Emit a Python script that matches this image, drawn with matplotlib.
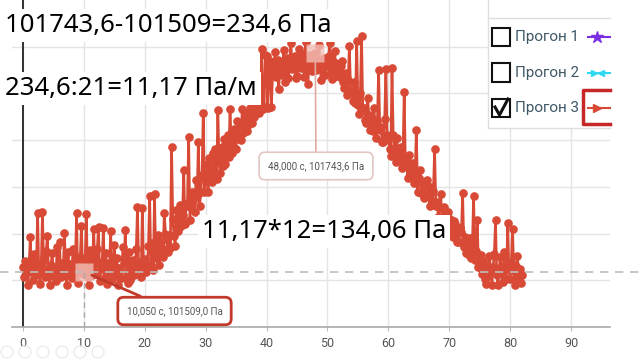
import numpy as np
import matplotlib.pyplot as plt
from matplotlib.patches import Rectangle, Ellipse
from matplotlib.lines import Line2D

# pressure sensor log, one reading every 0.2 s from 0 to 82 s (Pa)
step = 0.2
pressure = [
    101514, 101503, 101521, 101508, 101495, 101517, 101546, 101511, 101500, 101528,
    101506, 101515, 101572, 101509, 101496, 101519, 101573, 101512, 101504, 101531,
    101547, 101508, 101495, 101516, 101529, 101505, 101513, 101499, 101536, 101510,
    101541, 101503, 101518, 101508, 101551, 101514, 101495, 101530, 101506, 101517,
    101502, 101534, 101508, 101520, 101572, 101497, 101514, 101525, 101558, 101507,
    101509, 101518, 101571, 101503, 101495, 101532, 101512, 101506, 101555, 101519,
    101507, 101534, 101557, 101499, 101512, 101520, 101556, 101504, 101529, 101496,
    101518, 101510, 101553, 101501, 101506, 101538, 101514, 101524, 101495, 101511,
    101513, 101502, 101536, 101519, 101554, 101509, 101497, 101530, 101500, 101521,
    101522, 101506, 101515, 101533, 101578, 101511, 101520, 101503, 101577, 101514,
    101523, 101509, 101512, 101537, 101590, 101516, 101540, 101511, 101592, 101524,
    101526, 101548, 101516, 101541, 101535, 101525, 101572, 101550, 101544, 101530,
    101549, 101535, 101643, 101566, 101547, 101537, 101575, 101553, 101566, 101581,
    101558, 101570, 101618, 101560, 101582, 101580, 101653, 101565, 101579, 101594,
    101585, 101573, 101607, 101590, 101648, 101580, 101594, 101613, 101679, 101595,
    101606, 101624, 101595, 101631, 101609, 101605, 101636, 101617, 101640, 101608,
    101682, 101627, 101615, 101643, 101622, 101651, 101625, 101634, 101656, 101632,
    101683, 101645, 101636, 101662, 101657, 101640, 101670, 101651, 101664, 101650,
    101683, 101658, 101667, 101679, 101660, 101666, 101684, 101684, 101668, 101677,
    101675, 101684, 101680, 101684, 101679, 101686, 101748, 101683, 101686, 101741,
    101740, 101684, 101728, 101735, 101686, 101722, 101730, 101744, 101718, 101736,
    101705, 101731, 101724, 101720, 101746, 101712, 101727, 101738, 101716, 101733,
    101754, 101726, 101735, 101740, 101716, 101719, 101731, 101748, 101727, 101742,
    101733, 101718, 101755, 101729, 101710, 101739, 101741, 101724, 101730, 101736,
    101743.6, 101725, 101733, 101752, 101726, 101714, 101731, 101738, 101720, 101735,
    101729, 101740, 101754, 101723, 101715, 101734, 101745, 101719, 101727, 101732,
    101718, 101729, 101735, 101712, 101706, 101722, 101698, 101714, 101751, 101704,
    101702, 101692, 101712, 101690, 101756, 101688, 101678, 101700, 101762, 101684,
    101684, 101672, 101668, 101695, 101677, 101661, 101672, 101660, 101684, 101672,
    101652, 101670, 101725, 101661, 101664, 101648, 101648, 101673, 101726, 101655,
    101651, 101641, 101633, 101727, 101655, 101642, 101627, 101652, 101628, 101639,
    101643, 101620, 101633, 101701, 101626, 101631, 101610, 101634, 101612, 101622,
    101626, 101604, 101615, 101661, 101595, 101609, 101618, 101593, 101604, 101588,
    101590, 101606, 101607, 101593, 101580, 101600, 101585, 101596, 101640, 101580,
    101584, 101568, 101578, 101592, 101566, 101560, 101578, 101569, 101556, 101573,
    101553, 101566, 101559, 101546, 101563, 101560, 101541, 101555, 101541, 101556,
    101552, 101593, 101536, 101546, 101529, 101540, 101527, 101545, 101524, 101536,
    101590, 101522, 101531, 101565, 101514, 101514, 101527, 101507, 101521, 101501,
    101496, 101516, 101505, 101526, 101511, 101495, 101514, 101528, 101564, 101506,
    101495, 101513, 101525, 101508, 101498, 101530, 101515, 101501, 101561, 101512,
    101501, 101520, 101555, 101510, 101495, 101515, 101526, 101502, 101512, 101497,
    101506,
]
time = np.arange(len(pressure)) * step

# two selected points shown with tooltips
tip_times = [48.0, 10.05]
tip_values = [101743.6, 101509.0]

series_names = ['Прогон 1', 'Прогон 2', 'Прогон 3']
series_checked = [False, False, True]
series_colors = ['#7b2fe3', '#2fd8ef', '#d84a35']

notes = ['101743,6-101509=234,6 Па', '234,6:21=11,17 Па/м', '11,17*12=134,06 Па']

xticks = list(range(0, 100, 10))
yticks = list(range(101500, 101800, 50))

W, H = 640, 360


def fx(x):
    return x / W


def fy(y):
    return 1 - y / H


red = series_colors[2]
big_font = ['Noto Sans', 'DejaVu Sans']
ui_font = ['Roboto', 'DejaVu Sans']

fig = plt.figure(figsize=(6.4, 3.6), dpi=100)
ax = fig.add_axes([fx(12), fy(327), (610 - 12) / W, 327 / H])
px_per_s = 6.089
ax.set_xlim((12 - 23) / px_per_s, (610 - 23) / px_per_s)
ax.set_ylim(101450, 101800)

ax.set_xticks(xticks)
ax.set_xticklabels([str(t) for t in xticks], fontsize=9, color='#555555',
                   family=ui_font)
ax.set_yticks(yticks)
ax.tick_params(axis='y', length=0, labelleft=False)
ax.tick_params(axis='x', length=3, pad=4, color='#bbbbbb')
ax.grid(True, color='#e4e4e4', linewidth=1)
ax.set_axisbelow(True)
for s in ['top', 'right', 'left']:
    ax.spines[s].set_visible(False)
ax.spines['bottom'].set_color('#a8a8a8')
ax.spines['bottom'].set_linewidth(1.2)
ax.axvline(0, color='#222222', linewidth=1.3, zorder=1.5)

# the run itself
ax.plot(time, pressure, color=red, linewidth=1.9, marker='o', markersize=5.2,
        zorder=3)

# highlighted points
ax.plot(tip_times, tip_values, 's', markersize=12.5, color='#f2beb6',
        alpha=0.8, markeredgecolor='none', zorder=4)

# crosshair of the selected point
ax.plot([tip_times[1], tip_times[1]], [101450, tip_values[1]],
        linestyle=(0, (4, 3)), color='#aaaaaa', linewidth=1, zorder=5)
ax.axhline(tip_values[1], xmin=-12 / 598, xmax=628 / 598, clip_on=False,
           linestyle=(0, (5, 4)), color='#bdbdbd', linewidth=1.2, zorder=5)

tip_boxes = [(316, 166, '#e2c6c2', '#e0aaa2', 1.2), (174.5, 311, '#c0392b', '#c0392b', 2)]
for t, p, (bx, by, ec, lc, lw) in zip(tip_times, tip_values, tip_boxes):
    label = f'{t:.3f} с, {p:.1f} Па'.replace('.', ',')
    ax.annotate(label, xy=(t, p), xytext=(fx(bx), fy(by)),
                textcoords='figure fraction', ha='center', va='center',
                fontsize=7, color='#555555', family=ui_font,
                bbox=dict(boxstyle='round,pad=0.9,rounding_size=0.6',
                          fc='white', ec=ec, lw=lw),
                arrowprops=dict(arrowstyle='-', color=lc, lw=lw,
                                shrinkA=0, shrinkB=6),
                zorder=6)

# legend panel on the right
fig.add_artist(Rectangle((fx(488), fy(128)), (610 - 488) / W, 128 / H,
                         transform=fig.transFigure, fc='white', ec='none',
                         zorder=8))
for xs, ys in [([488, 488], [0, 128]), ([488, 610], [128, 128]),
               ([488, 610], [18, 18])]:
    fig.add_artist(Line2D([fx(v) for v in xs], [fy(v) for v in ys],
                          color='#dedede', linewidth=1, zorder=9))

for i, (name, checked, color) in enumerate(zip(series_names, series_checked,
                                               series_colors)):
    yc = 37 + 35.5 * i
    fig.add_artist(Rectangle((fx(492), fy(yc + 9)), 18 / W, 18 / H,
                             transform=fig.transFigure, fc='white',
                             ec='#111111', lw=1.5, zorder=10))
    if checked:
        fig.add_artist(Line2D([fx(495), fx(499.5), fx(508)],
                              [fy(yc - 1), fy(yc + 7), fy(yc - 9)],
                              color='#111111', linewidth=2.2, zorder=11))
    fig.text(fx(515), fy(yc), name, ha='left', va='center', fontsize=11,
             color='#3f5866', family=ui_font, zorder=10)
    fig.add_artist(Line2D([fx(588), fx(610)], [fy(yc), fy(yc)], color=color,
                          linewidth=1.5, zorder=10))
    if i == 0:
        fig.add_artist(Line2D([fx(597)], [fy(yc)], marker='*', markersize=9,
                              color=color, zorder=11))
    elif i == 1:
        fig.add_artist(Line2D([fx(594)], [fy(yc)], marker='>', markersize=5,
                              color=color, zorder=11))
        fig.add_artist(Line2D([fx(601)], [fy(yc)], marker='<', markersize=5,
                              color=color, zorder=11))
    else:
        fig.add_artist(Line2D([fx(597)], [fy(yc)], marker='>', markersize=6,
                              color=color, zorder=11))

# red frame around the chosen series marker
fig.add_artist(Line2D([fx(610), fx(583), fx(583), fx(610)],
                      [fy(90), fy(90), fy(124), fy(124)],
                      color='#c62828', linewidth=2.5, zorder=12))

# faint toolbar buttons in the corner
for cx in [7, 25, 43, 62, 80, 98]:
    fig.add_artist(Ellipse((fx(cx), fy(352)), 12 / W, 12 / H,
                           transform=fig.transFigure, fc='none',
                           ec='#ececec', lw=1, zorder=2))

# hand written calculations on top
for note, (nx, ny) in zip(notes, [(5, 32), (5, 95), (202, 238)]):
    fig.text(fx(nx), fy(ny), note, ha='left', va='baseline', fontsize=18.5,
             color='black', family=big_font, zorder=15,
             bbox=dict(fc='white', ec='none', pad=3))

fig.savefig('out.png', dpi=100)
